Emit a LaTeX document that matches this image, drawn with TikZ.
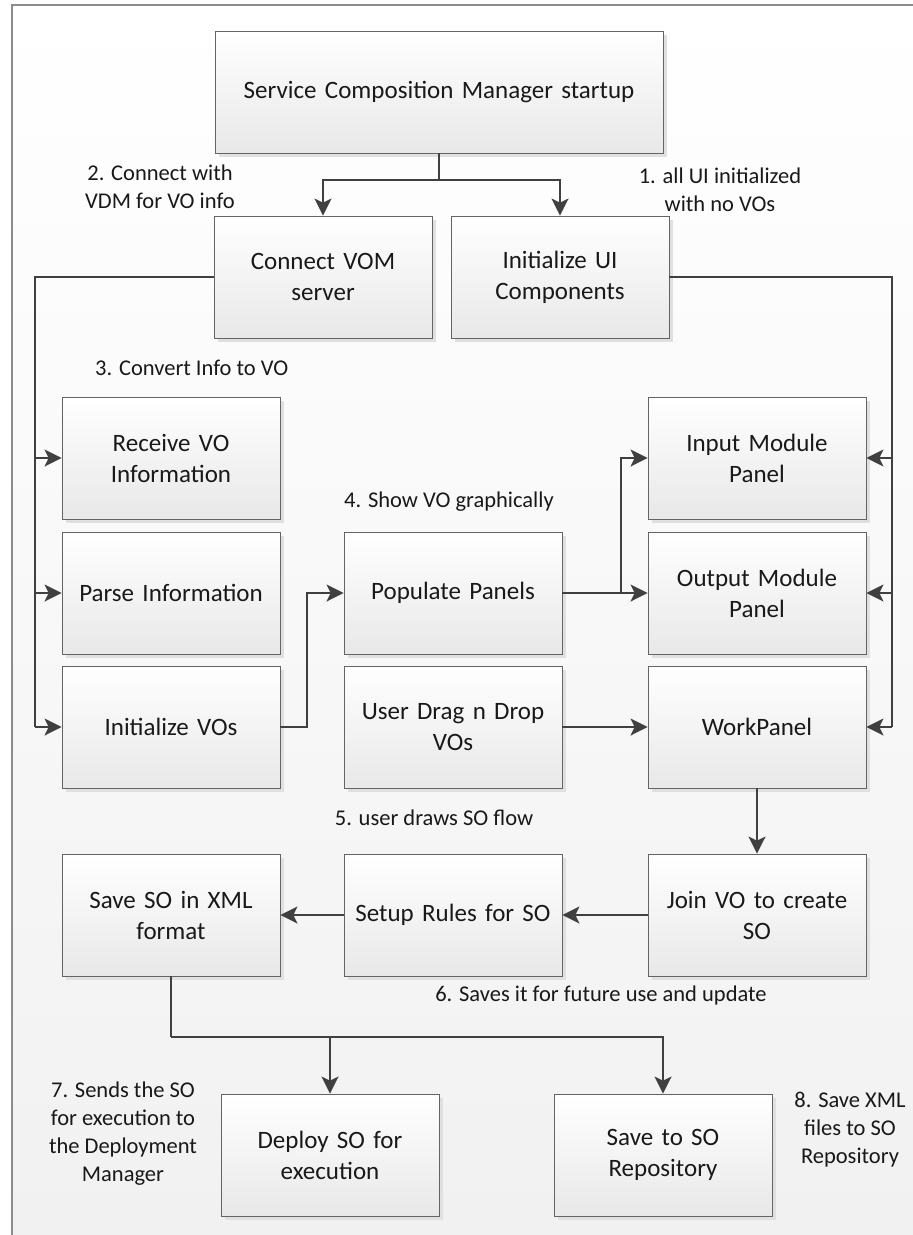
\documentclass[tikz,border=0pt]{standalone}
\usepackage{fontspec}
\setmainfont{Carlito}
\usetikzlibrary{arrows.meta,shadows}
\definecolor{scLine}{RGB}{64,64,64}
\definecolor{scEdge}{RGB}{100,100,100}
\definecolor{scFrame}{RGB}{140,140,140}
\definecolor{scLow}{RGB}{232,232,232}
\definecolor{scBack}{RGB}{241,241,241}
\newcommand{\BW}{218pt}
\newcommand{\BH}{122pt}

\begin{document}
\begin{tikzpicture}[
    x=1pt, y=-1pt,
    box/.style={rectangle, draw=scEdge, line width=0.8pt, top color=white, bottom color=scLow,
      minimum width=\BW, minimum height=\BH, inner sep=4pt, align=center, text width=208pt,
      font=\fontsize{25}{31}\selectfont, text=black!90,
      drop shadow={shadow xshift=4pt, shadow yshift=-4pt, fill=black!12, opacity=1}},
    wide/.style={box, minimum width=448pt, text width=436pt},
    flow/.style={draw=scLine, line width=2pt, -{Stealth[length=17pt, width=17pt, inset=4pt]}},
    wire/.style={draw=scLine, line width=2pt},
    note/.style={font=\fontsize{22.5}{28}\selectfont, text=black!90, align=center, inner sep=0pt},
  ]

  %% background and frame
  \useasboundingbox (0,0) rectangle (913,1235);
  \shade[top color=white, bottom color=scBack] (12,5) rectangle (913,1235);
  \draw[scFrame, line width=1.2pt] (12,1235) -- (12,5) -- (913,5);

  %% ================= startup =================
  \node[wide] (scm) at (439,92) {Service Composition Manager startup};
  \node[box] (vom) at (323,277) {Connect VOM\\server};
  \node[box] (ui)  at (560,277) {Initialize UI\\Components};

  %% ================= three columns =================
  \node[box] (recv)   at (171,458) {Receive VO\\Information};
  \node[box] (parse)  at (171,593) {Parse Information};
  \node[box] (initvo) at (171,727) {Initialize VOs};

  \node[box] (pop)  at (453,593) {Populate Panels};
  \node[box] (drag) at (453,727) {User Drag n Drop\\VOs};

  \node[box] (inmod)  at (757,458) {Input Module\\Panel};
  \node[box] (outmod) at (757,593) {Output Module\\Panel};
  \node[box] (work)   at (757,727) {WorkPanel};

  %% ================= SO creation =================
  \node[box] (join)  at (757,915) {Join VO to create\\SO};
  \node[box] (rules) at (453,915) {Setup Rules for SO};
  \node[box] (save)  at (171,915) {Save SO in XML\\format};

  \node[box] (deploy) at (330,1155) {Deploy SO for\\execution};
  \node[box] (repo)   at (663,1155) {Save to SO\\Repository};

  %% step notes
  \node[note] (n1) at (720,190) {1. all UI initialized\\with no VOs};
  \node[note] (n2) at (160,187) {2. Connect with\\VDM for VO info};
  \node[note, anchor=west] (n3) at (95,368) {3. Convert Info to VO};
  \node[note] (n4) at (449,502) {4. Show VO graphically};
  \node[note] (n5) at (434,818) {5. user draws SO flow};
  \node[note] (n6) at (601,995) {6. Saves it for future use and update};
  \node[note] (n7) at (123,1134) {7. Sends the SO\\for execution to\\the Deployment\\Manager};
  \node[note] (n8) at (850,1130) {8. Save XML\\files to SO\\Repository};

  %% connectors
  \coordinate (fork) at (439,180);
  \coordinate (lbus) at (35,727);
  \coordinate (rbus) at (892,727);
  \coordinate (turn) at (307,727);
  \coordinate (split) at (621,593);
  \coordinate (drop) at (171,1037);

  \draw[wire] (scm.south) -- (fork);
  \draw[flow] (fork) -| (vom.north);
  \draw[flow] (fork) -| (ui.north);

  \draw[wire] (vom.west) -| (lbus);
  \foreach \b in {recv,parse,initvo}
    \draw[flow] (lbus |- \b.west) -- (\b.west);

  \draw[wire] (ui.east) -| (rbus);
  \foreach \b in {inmod,outmod,work}
    \draw[flow] (rbus |- \b.east) -- (\b.east);

  \draw[flow] (initvo.east) -- (turn) |- (pop.west);
  \draw[flow] (pop.east) -- (outmod.west);
  \draw[flow] (split) |- (inmod.west);
  \draw[flow] (drag.east) -- (work.west);

  \draw[flow] (work.south) -- (join.north);
  \draw[flow] (join.west) -- (rules.east);
  \draw[flow] (rules.west) -- (save.east);

  \draw[wire] (save.south) -- (drop);
  \draw[flow] (drop) -| (repo.north);
  \draw[flow] (drop -| deploy.north) -- (deploy.north);

\end{tikzpicture}
\end{document}
